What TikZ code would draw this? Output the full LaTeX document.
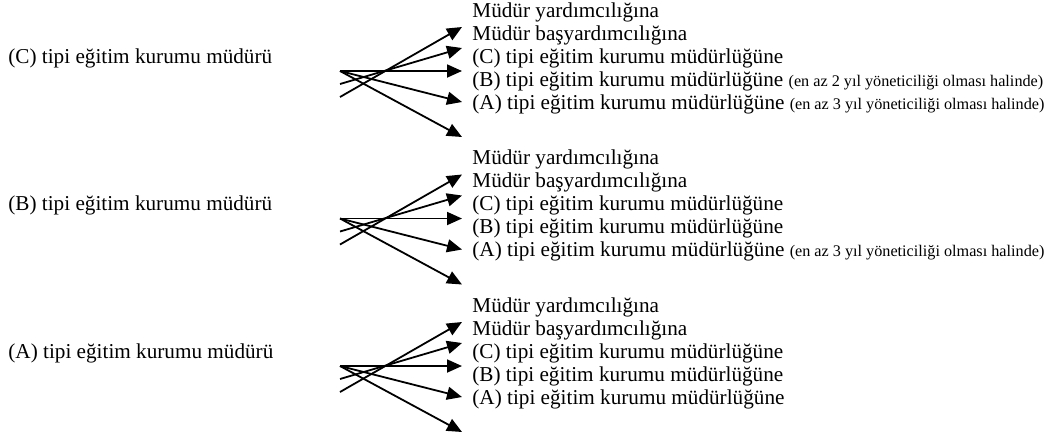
\documentclass[tikz,border=0pt]{standalone}
\usepackage{fontspec}
\setmainfont{Liberation Serif}
\usetikzlibrary{arrows.meta}

\newcommand{\kosul}[1]{{\fontsize{8.1}{9}\selectfont #1}}

\tikzset{
	item/.style={anchor=base west, inner sep=0pt, font=\fontsize{10.6}{12}\selectfont},
	fan/.style={-{Triangle[length=7.5pt,width=6.5pt]}, line width=0.9pt},
}

\begin{document}
\begin{tikzpicture}[x=0.5pt, y=-0.5pt]
	\useasboundingbox (0,0) rectangle (1054,446);
	% fan of arrows for each group
	\foreach \g/\y in {1/71, 2/218.5, 3/366} {
		\coordinate (o-\g) at (340,\y);
		\coordinate (p-\g) at (340,\y+13);
		\coordinate (q-\g) at (340,\y+26);
		\coordinate (t-\g-1) at (462,\y-44);
		\coordinate (t-\g-2) at (462,\y-23);
		\coordinate (t-\g-3) at (462,\y);
		\coordinate (t-\g-4) at (462,\y+31);
		\coordinate (t-\g-5) at (462,\y+66);
		\path[fan]
		(q-\g) edge (t-\g-1)
		(p-\g) edge (t-\g-2)
		(o-\g) edge (t-\g-3)
			edge (t-\g-4)
			edge (t-\g-5);
	}
	% (C)
	\node[item] (g-1) at (8,63) {(C) tipi eğitim kurumu müdürü};
	\node[item] (r-1-1) at (472,17) {Müdür yardımcılığına};
	\node[item] (r-1-2) at (472,40) {Müdür başyardımcılığına};
	\node[item] (r-1-3) at (472,63) {(C) tipi eğitim kurumu müdürlüğüne};
	\node[item] (r-1-4) at (472,86) {(B) tipi eğitim kurumu müdürlüğüne \kosul{(en az 2 yıl yöneticiliği olması halinde)}};
	\node[item] (r-1-5) at (472,109) {(A) tipi eğitim kurumu müdürlüğüne \kosul{(en az 3 yıl yöneticiliği olması halinde)}};
	% (B)
	\node[item] (g-2) at (8,210.5) {(B) tipi eğitim kurumu müdürü};
	\node[item] (r-2-1) at (472,164.5) {Müdür yardımcılığına};
	\node[item] (r-2-2) at (472,187.5) {Müdür başyardımcılığına};
	\node[item] (r-2-3) at (472,210.5) {(C) tipi eğitim kurumu müdürlüğüne};
	\node[item] (r-2-4) at (472,233.5) {(B) tipi eğitim kurumu müdürlüğüne};
	\node[item] (r-2-5) at (472,256.5) {(A) tipi eğitim kurumu müdürlüğüne \kosul{(en az 3 yıl yöneticiliği olması halinde)}};
	% (A)
	\node[item] (g-3) at (8,358) {(A) tipi eğitim kurumu müdürü};
	\node[item] (r-3-1) at (472,312) {Müdür yardımcılığına};
	\node[item] (r-3-2) at (472,335) {Müdür başyardımcılığına};
	\node[item] (r-3-3) at (472,358) {(C) tipi eğitim kurumu müdürlüğüne};
	\node[item] (r-3-4) at (472,381) {(B) tipi eğitim kurumu müdürlüğüne};
	\node[item] (r-3-5) at (472,404) {(A) tipi eğitim kurumu müdürlüğüne};
\end{tikzpicture}
\end{document}
